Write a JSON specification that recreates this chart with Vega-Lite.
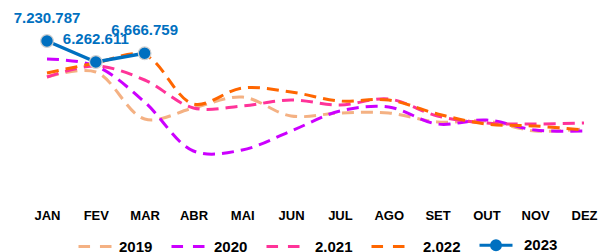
{
  "$schema": "https://vega.github.io/schema/vega-lite/v6.json",
  "autosize": "none",
  "width": 537,
  "height": 190,
  "padding": {"left": 47, "right": 16, "top": 10, "bottom": 52},
  "background": "#ffffff",
  "config": {
    "view": {"stroke": null},
    "locale": {"number": {"decimal": ",", "thousands": ".", "grouping": [3], "currency": ["", ""]}}
  },
  "data": {"values": [
    {"month": "JAN", "year": "2019", "value": 5571000},
    {"month": "FEV", "year": "2019", "value": 5802000},
    {"month": "MAR", "year": "2019", "value": 3635000},
    {"month": "ABR", "year": "2019", "value": 4142000},
    {"month": "MAI", "year": "2019", "value": 4649000},
    {"month": "JUN", "year": "2019", "value": 3773000},
    {"month": "JUL", "year": "2019", "value": 3912000},
    {"month": "AGO", "year": "2019", "value": 3912000},
    {"month": "SET", "year": "2019", "value": 3497000},
    {"month": "OUT", "year": "2019", "value": 3543000},
    {"month": "NOV", "year": "2019", "value": 3082000},
    {"month": "DEZ", "year": "2019", "value": 3174000},
    {"month": "JAN", "year": "2020", "value": 6401000},
    {"month": "FEV", "year": "2020", "value": 6078000},
    {"month": "MAR", "year": "2020", "value": 4419000},
    {"month": "ABR", "year": "2020", "value": 2160000},
    {"month": "MAI", "year": "2020", "value": 2206000},
    {"month": "JUN", "year": "2020", "value": 3082000},
    {"month": "JUL", "year": "2020", "value": 4004000},
    {"month": "AGO", "year": "2020", "value": 4188000},
    {"month": "SET", "year": "2020", "value": 3404000},
    {"month": "OUT", "year": "2020", "value": 3589000},
    {"month": "NOV", "year": "2020", "value": 3128000},
    {"month": "DEZ", "year": "2020", "value": 3082000},
    {"month": "JAN", "year": "2.021", "value": 5571000},
    {"month": "FEV", "year": "2.021", "value": 6078000},
    {"month": "MAR", "year": "2.021", "value": 5433000},
    {"month": "ABR", "year": "2.021", "value": 4142000},
    {"month": "MAI", "year": "2.021", "value": 4234000},
    {"month": "JUN", "year": "2.021", "value": 4511000},
    {"month": "JUL", "year": "2.021", "value": 4280000},
    {"month": "AGO", "year": "2.021", "value": 4557000},
    {"month": "SET", "year": "2.021", "value": 3773000},
    {"month": "OUT", "year": "2.021", "value": 3451000},
    {"month": "NOV", "year": "2.021", "value": 3404000},
    {"month": "DEZ", "year": "2.021", "value": 3451000},
    {"month": "JAN", "year": "2.022", "value": 5756000},
    {"month": "FEV", "year": "2.022", "value": 6217000},
    {"month": "MAR", "year": "2.022", "value": 6585000},
    {"month": "ABR", "year": "2.022", "value": 4326000},
    {"month": "MAI", "year": "2.022", "value": 5064000},
    {"month": "JUN", "year": "2.022", "value": 4880000},
    {"month": "JUL", "year": "2.022", "value": 4465000},
    {"month": "AGO", "year": "2.022", "value": 4511000},
    {"month": "SET", "year": "2.022", "value": 3865000},
    {"month": "OUT", "year": "2.022", "value": 3404000},
    {"month": "NOV", "year": "2.022", "value": 3312000},
    {"month": "DEZ", "year": "2.022", "value": 3128000},
    {"month": "JAN", "year": "2023", "value": 7230787},
    {"month": "FEV", "year": "2023", "value": 6262611},
    {"month": "MAR", "year": "2023", "value": 6666759}
  ]},
  "encoding": {
    "x": {
      "field": "month", "type": "ordinal",
      "sort": ["JAN", "FEV", "MAR", "ABR", "MAI", "JUN", "JUL", "AGO", "SET", "OUT", "NOV", "DEZ"],
      "scale": {"padding": 0},
      "axis": {"title": null, "labelAngle": 0, "domain": false, "ticks": false, "grid": false,
               "labelFont": "Liberation Sans", "labelFontWeight": "bold", "labelFontSize": 13,
               "labelColor": "#000000", "labelPadding": 9}
    },
    "y": {
      "field": "value", "type": "quantitative",
      "scale": {"domain": [-99113, 8659887], "nice": false, "zero": false},
      "axis": null
    },
    "color": {
      "field": "year", "type": "nominal",
      "scale": {"domain": ["2019", "2020", "2.021", "2.022", "2023"],
                "range": ["#F4B183", "#CC00FF", "#FF3399", "#FF6600", "#0070C0"]},
      "legend": {
        "orient": "none", "legendX": 30, "legendY": 217, "direction": "horizontal",
        "title": null, "symbolType": "stroke", "symbolSize": 1089, "symbolStrokeWidth": 3,
        "labelFont": "Liberation Sans", "labelFontWeight": "bold", "labelFontSize": 15,
        "labelColor": "#000000", "labelOffset": 6, "columnPadding": 12, "padding": 0, "labelLimit": 80,
        "encode": {
          "symbols": {"update": {
            "shape": {"signal": "datum.value === '2023' ? 'M-1,0H-0.27M0.27,0H1M-0.27,0A0.27,0.27 0 1,1 0.27,0A0.27,0.27 0 1,1 -0.27,0Z' : 'M-1,0H-0.3M0.3,0H1'"},
            "fill": {"signal": "datum.value === '2023' ? '#0070C0' : 'transparent'"},
            "strokeDash": {"value": []},
            "opacity": {"value": 1}
          }},
          "labels": {"update": {
            "dx": {"signal": "datum.value === '2020' ? 2 : (datum.value === '2.021' ? 8 : (datum.value === '2.022' ? 11 : (datum.value === '2023' ? 4 : 0)))"}
          }}
        }
      }
    }
  },
  "layer": [
    {
      "transform": [{"filter": "datum.year !== '2023'"}],
      "mark": {"type": "line", "strokeWidth": 3, "strokeDash": [12, 7], "interpolate": "catmull-rom"}
    },
    {
      "transform": [{"filter": "datum.year === '2023'"}],
      "mark": {"type": "line", "strokeWidth": 3.5}
    },
    {
      "transform": [{"filter": "datum.year === '2023'"}],
      "mark": {"type": "point", "filled": true, "size": 160, "stroke": "#D0D0D0", "strokeWidth": 1.2, "opacity": 1}
    },
    {
      "transform": [{"filter": "datum.year === '2023'"}],
      "mark": {"type": "text", "dy": -23, "font": "Liberation Sans", "fontWeight": "bold", "fontSize": 15},
      "encoding": {"text": {"field": "value", "type": "quantitative", "format": ",d"}}
    }
  ]
}
